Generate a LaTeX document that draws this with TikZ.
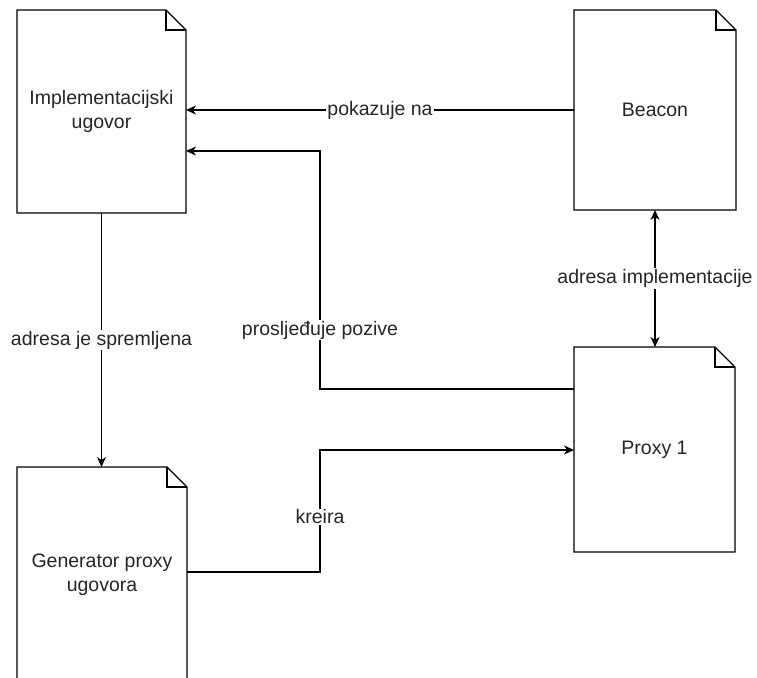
\documentclass[tikz,border=0pt]{standalone}
\usepackage{fontspec}
\setmainfont{Liberation Sans}
\usetikzlibrary{arrows.meta}
\tikzset{
  docbox/.style={draw=none, inner sep=0pt, outer sep=0pt, align=center,
    font=\fontsize{19.5}{24}\selectfont, text=black!85},
  docline/.style={draw=black, line width=1.2pt, fill=white, line join=miter},
  arr/.style={draw=black, line width=1.2pt, -{Stealth[length=10pt,width=9pt,inset=3pt]}},
  dblarr/.style={draw=black, line width=1.2pt, {Stealth[length=10pt,width=9pt,inset=3pt]}-{Stealth[length=10pt,width=9pt,inset=3pt]}},
  lbl/.style={fill=white, inner sep=1pt, font=\fontsize{19.5}{24}\selectfont, text=black!85}
}
\newcommand\mydocshape[1]{%
  \draw[docline] (#1.north west) -- ([xshift=-20pt]#1.north east) -- ([yshift=-20pt]#1.north east) -- (#1.south east) -- (#1.south west) -- cycle;
  \draw[docline, fill=none] ([xshift=-20pt]#1.north east) |- ([yshift=-20pt]#1.north east);}
\begin{document}
\begin{tikzpicture}[x=1pt, y=-1pt]
\clip (0,0) rectangle (757,677);
\fill[white] (0,0) rectangle (757,677);
\node[docbox, minimum width=169pt, minimum height=203pt] (impl) at (101.5,111.5) {};
\node[docbox, minimum width=162pt, minimum height=200pt] (beacon) at (655,110) {};
\node[docbox, minimum width=161pt, minimum height=205pt] (proxy) at (654.5,449.5) {};
\node[docbox, minimum width=170pt, minimum height=216pt] (gen) at (102,575) {};
\mydocshape{impl}
\mydocshape{beacon}
\mydocshape{proxy}
\mydocshape{gen}
\node[docbox] at (impl) {Implementacijski\\ugovor};
\node[docbox] at (beacon) {Beacon};
\node[docbox] at (proxy) {Proxy 1};
\node[docbox] at (gen) {Generator proxy\\ugovora};
\coordinate (fwdA) at (320,389);
\coordinate (fwdB) at (320,151);
\coordinate (crA) at (320,572);
\coordinate (crB) at (320,450);
\draw[arr] (beacon.west) -- node[lbl, pos=0.5]{pokazuje na} (beacon.west -| impl.east);
\draw[arr] (proxy.west |- fwdA) -| (fwdB) -- (impl.east |- fwdB);
\node[lbl] at (320,330) {prosljeđuje pozive};
\draw[arr] (gen.east |- crA) -| (crB) -- (proxy.west |- crB);
\node[lbl] at (320,517) {kreira};
\draw[arr] (impl.south) -- node[lbl]{adresa je spremljena} (impl.south |- gen.north);
\draw[dblarr] (beacon.south) -- node[lbl]{adresa implementacije} (beacon.south |- proxy.north);
\end{tikzpicture}
\end{document}
